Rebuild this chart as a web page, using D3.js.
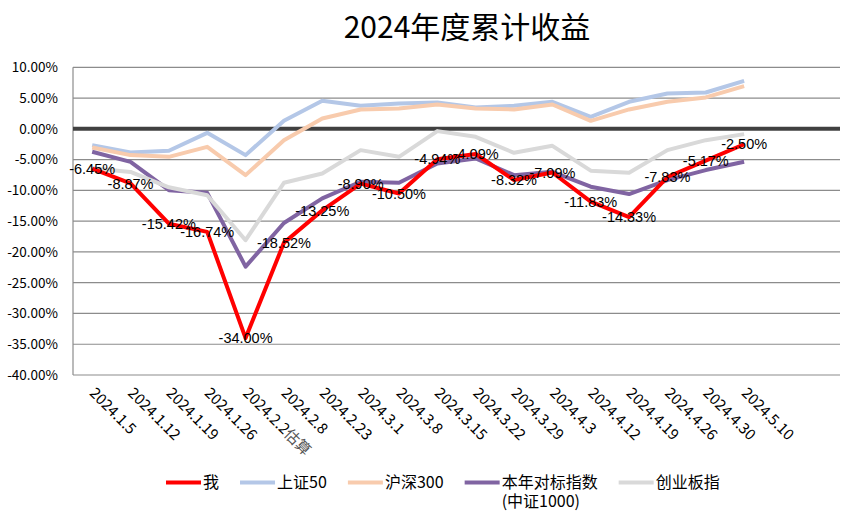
<!DOCTYPE html>
<html><head><meta charset="utf-8">
<script src="https://cdn.jsdelivr.net/npm/d3@7"></script>
<style>
body{margin:0;background:#fff;}
svg{display:block;}
</style></head>
<body>
<svg id="c" width="849" height="514"></svg>
<script>
const title = "2024年度累计收益";
const dates = ["2024.1.5","2024.1.12","2024.1.19","2024.1.26","2024.2.2估算","2024.2.8","2024.2.23","2024.3.1","2024.3.8","2024.3.15","2024.3.22","2024.3.29","2024.4.3","2024.4.12","2024.4.19","2024.4.26","2024.4.30","2024.5.10"];
const seriesNames = ["我","上证50","沪深300","本年对标指数\n(中证1000)","创业板指"];
const me      = [-6.45,-8.87,-15.42,-16.74,-34.00,-18.52,-13.25,-8.90,-10.50,-4.94,-4.09,-8.32,-7.09,-11.83,-14.33,-7.83,-5.17,-2.50];
const sz50    = [-2.65,-3.84,-3.57,-0.65,-4.27,1.30,4.55,3.74,4.12,4.29,3.48,3.74,4.39,1.95,4.39,5.75,5.91,7.80];
const hs300   = [-3.03,-4.27,-4.55,-2.92,-7.52,-1.84,1.69,3.15,3.31,3.96,3.31,3.15,3.96,1.30,3.15,4.39,5.10,6.94];
const csi1000 = [-3.73,-5.36,-9.96,-10.40,-22.40,-15.30,-11.30,-8.60,-8.77,-5.63,-4.82,-7.52,-6.98,-9.40,-10.60,-8.34,-6.70,-5.36];
const chinext = [-6.40,-7.00,-9.50,-10.80,-18.10,-8.77,-7.25,-3.46,-4.55,-0.37,-1.30,-3.90,-2.76,-6.80,-7.15,-3.46,-1.84,-0.86];
const yTicks = [10,5,0,-5,-10,-15,-20,-25,-30,-35,-40];

const colors = ["#ff0000","#b4c7e7","#f8cbad","#8064a2","#d9d9d9"];
const values = [me, sz50, hs300, csi1000, chinext];
const slots = 20; // plot area holds 20 category slots (last two empty)

const svg = d3.select("#c");
const L = 73, R = 840, T = 67.3, B = 375;
const x = d3.scaleBand().domain(d3.range(slots)).range([L, R]);
const cx = i => x(i) + x.bandwidth()/2;
const y = d3.scaleLinear().domain([-40, 10]).range([B, T]);

// title
svg.append("text").attr("x", 467).attr("y", 38).attr("text-anchor","middle")
  .attr("font-family","'Noto Sans CJK SC'").attr("font-size", 30).attr("fill","#000").text(title);

// gridlines
svg.append("g").selectAll("line").data(yTicks.filter(d=>d!==0)).join("line")
  .attr("x1", L).attr("x2", R).attr("y1", d=>y(d)).attr("y2", d=>y(d))
  .attr("stroke","#8c8c8c").attr("stroke-width",1.2);
// left axis
svg.append("line").attr("x1",L).attr("x2",L).attr("y1",T).attr("y2",B).attr("stroke","#8c8c8c").attr("stroke-width",1.2);

// y labels
const loc = d3.formatLocale({decimal:".", thousands:",", grouping:[3], currency:["",""], minus:"-", percent:"%"});
const fmt = loc.format(".2%");
svg.append("g").selectAll("text").data(yTicks).join("text")
  .attr("x", 58).attr("y", d=>y(d)).attr("dy","0.36em").attr("text-anchor","end")
  .attr("font-family","'Noto Sans CJK SC'").attr("font-size",13.5).attr("fill","#000")
  .text(d=>fmt(d/100));

// zero line
svg.append("line").attr("x1",L).attr("x2",R).attr("y1",y(0)).attr("y2",y(0))
  .attr("stroke","#404040").attr("stroke-width",4);

// lines (red drawn last, on top)
const order = [1,2,3,4,0];
const line = d3.line().x((d,i)=>cx(i)).y(d=>y(d));
svg.append("g").selectAll("path").data(order).join("path")
  .attr("d", k=>line(values[k])).attr("fill","none")
  .attr("stroke", k=>colors[k]).attr("stroke-width",4)
  .attr("stroke-linejoin","round");

// data labels for 我
svg.append("g").selectAll("text").data(me).join("text")
  .attr("x",(d,i)=>cx(i)).attr("y",d=>y(d)).attr("dy","0.36em").attr("text-anchor","middle")
  .attr("font-family","'Liberation Sans'").attr("font-size",14.5).attr("fill","#000")
  .text(d=>fmt(d/100));

// x labels
const xl = svg.append("g").selectAll("text").data(dates).join("text")
  .attr("transform",(d,i)=>`translate(${cx(i)-3.5},394) rotate(45)`)
  .attr("font-family","'Noto Sans CJK SC'").attr("font-size",15).attr("fill","#000");
xl.each(function(d){
  const m = d.match(/^([0-9.]+)(.*)$/);
  const t = d3.select(this);
  t.append("tspan").text(m[1]);
  if (m[2]) t.append("tspan").attr("fill","#555").text(m[2]);
});

// legend
const lg = svg.append("g");
let lx = 166;
seriesNames.forEach((name,k)=>{
  lg.append("line").attr("x1",lx).attr("x2",lx+35).attr("y1",482.5).attr("y2",482.5)
    .attr("stroke",colors[k]).attr("stroke-width",4);
  const t = lg.append("text").attr("x",lx+37).attr("y",487.5)
    .attr("font-family","'Noto Sans CJK SC'").attr("font-size",16).attr("fill","#000");
  name.split("\n").forEach((s,j)=>{
    t.append("tspan").attr("x",lx+37).attr("dy", j===0?0:19).text(s);
  });
  const w = t.node().getBBox().width;
  lx += 37 + w + 21;
});
</script>
</body></html>
